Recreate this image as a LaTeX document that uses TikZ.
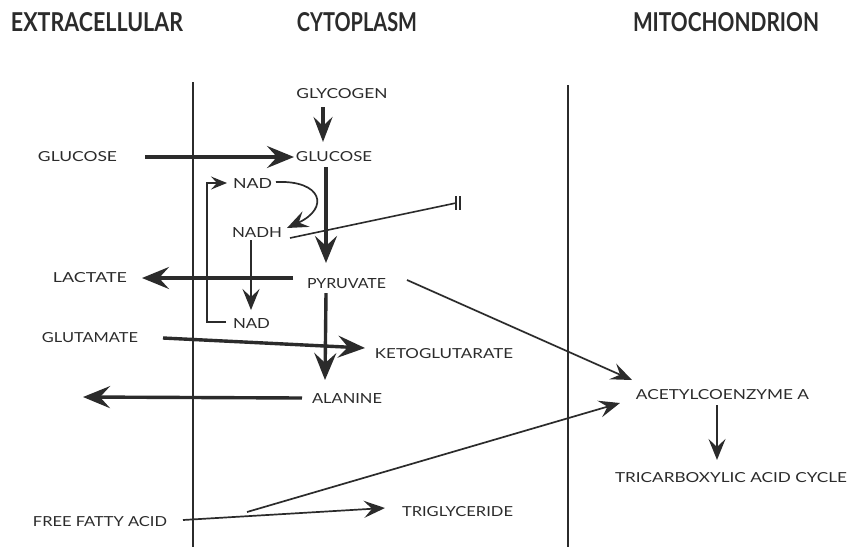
\documentclass[tikz,border=0pt]{standalone}
\usepackage{fontspec}
\setmainfont{Lato}
\usetikzlibrary{arrows.meta}
\definecolor{ink}{HTML}{2B2B2B}
\newcommand\lb[2]{\resizebox{#1pt}{10pt}{#2}}
\newcommand\hd[2]{\resizebox{#1pt}{19pt}{\bfseries #2}}
\begin{document}
\begin{tikzpicture}[x=1pt,y=-1pt,
  lbl/.style={inner sep=0pt, outer sep=0pt, text=ink},
  thickarr/.style={draw=ink, line width=3.4pt, -{Stealth[length=27pt,width=22pt,inset=10pt]}},
  medarr/.style={draw=ink, line width=3.2pt, -{Stealth[length=25pt,width=19pt,inset=9pt]}},
  thinarr/.style={draw=ink, line width=1.7pt, -{Stealth[length=21pt,width=17pt,inset=8pt]}},
  smallarr/.style={draw=ink, line width=1.4pt, -{Stealth[length=16pt,width=13pt,inset=6pt]}},
  plainline/.style={draw=ink, line width=1.6pt},
  membrane/.style={draw=ink, line width=2.4pt}]
\useasboundingbox (0,0) rectangle (851,547);
\fill[white] (0,0) rectangle (851,547);

% headers
\node[lbl] (hExt) at (97,22.5) {\hd{172}{EXTRACELLULAR}};
\node[lbl] (hCyt) at (357,22.5) {\hd{120}{CYTOPLASM}};
\node[lbl] (hMit) at (726,22.5) {\hd{186}{MITOCHONDRION}};

% membranes
\draw[membrane] (193,82) -- (193,547);
\draw[membrane] (568,85) -- (568,547);

% labels
\node[lbl] (glcE) at (77.5,157) {\lb{79}{GLUCOSE}};
\node[lbl] (glcC) at (334,157) {\lb{76}{GLUCOSE}};
\node[lbl] (glyc) at (342,94) {\lb{91}{GLYCOGEN}};
\node[lbl] (nadT) at (252.5,183) {\lb{39}{NAD}};
\node[lbl] (nadh) at (257,232) {\lb{50}{NADH}};
\node[lbl] (nadB) at (251.5,323) {\lb{37}{NAD}};
\node[lbl] (pyr) at (346.5,284) {\lb{79}{PYRUVATE}};
\node[lbl] (lac) at (90,278) {\lb{74}{LACTATE}};
\node[lbl] (glu) at (90,338) {\lb{96}{GLUTAMATE}};
\node[lbl] (keto) at (444,354) {\lb{138}{KETOGLUTARATE}};
\node[lbl] (ala) at (347,398) {\lb{70}{ALANINE}};
\node[lbl] (acet) at (722.5,395) {\lb{173}{ACETYLCOENZYME A}};
\node[lbl] (tca) at (731,478) {\lb{232}{TRICARBOXYLIC ACID CYCLE}};
\node[lbl] (ffa) at (100,522) {\lb{134}{FREE FATTY ACID}};
\node[lbl] (tri) at (457.5,512) {\lb{111}{TRIGLYCERIDE}};

% free ends
\coordinate (aout) at (83,397);
\coordinate (fbr) at (247,512);
\coordinate (inh) at (456,203);

% connectors
\draw[medarr] ([xshift=-19pt,yshift=-8pt]glyc.south) -- ([xshift=-11pt,yshift=10pt]glcC.north);
\draw[thickarr] ([xshift=28pt]glcE.east) -- ([xshift=-2pt]glcC.west);
\draw[thickarr] ([xshift=-8pt,yshift=-5pt]glcC.south) -- ([xshift=-20.5pt,yshift=16pt]pyr.north);
\draw[thickarr] ([xshift=-14pt,yshift=6pt]pyr.west) -- ([xshift=15pt,yshift=0pt]lac.east);
\draw[thickarr] ([xshift=-20.5pt,yshift=-4pt]pyr.south) -- ([xshift=-22pt,yshift=13pt]ala.north);
\draw[thickarr] ([xshift=-10pt]ala.west) -- (aout);
\draw[thickarr] ([xshift=25pt]glu.east) -- ([xshift=-10pt,yshift=6pt]keto.west);
\draw[thinarr] ([xshift=21pt,yshift=4pt]pyr.east) -- ([xshift=-4pt,yshift=15pt]acet.west);
\draw[thinarr] ([xshift=16pt,yshift=2pt]ffa.east) -- ([xshift=-17pt,yshift=4pt]tri.west);
\draw[thinarr] (fbr) -- ([xshift=-16pt,yshift=-8pt]acet.west);
\draw[thinarr] ([xshift=-5.5pt,yshift=-5pt]acet.south) -- ([xshift=-14pt,yshift=13pt]tca.north);

% NAD / NADH cycle
\draw[smallarr] ([xshift=-7pt,yshift=1pt]nadB.west) -- ++(-19,0) |- ([xshift=-6pt]nadT.west);
\draw[thinarr] ([xshift=4pt,yshift=1pt]nadT.east) .. controls (322,180) and (330,208) .. ([xshift=5pt,yshift=4pt]nadh.east);
\draw[thinarr] ([xshift=-6pt,yshift=-3pt]nadh.south) -- ([xshift=-0.5pt,yshift=8pt]nadB.north);
\draw[plainline] ([xshift=8pt,yshift=-6pt]nadh.east) -- (inh);
\draw[draw=ink, line width=1.4pt] ([yshift=7pt]inh) -- ([yshift=-7pt]inh);
\draw[draw=ink, line width=1.4pt] ([xshift=4pt,yshift=7pt]inh) -- ([xshift=4pt,yshift=-7pt]inh);
\end{tikzpicture}
\end{document}
